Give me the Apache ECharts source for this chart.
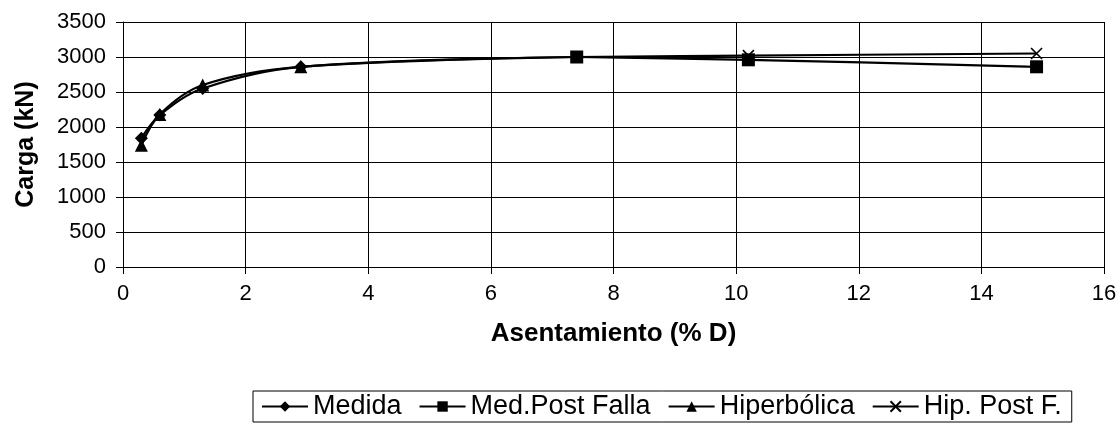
<!DOCTYPE html>
<html>
<head>
<meta charset="utf-8">
<script src="https://cdn.jsdelivr.net/npm/echarts@6/dist/echarts.min.js"></script>
<style>
  html, body { margin: 0; padding: 0; background: #fff; }
  #chart { width: 1120px; height: 429px; }
</style>
</head>
<body>
<div id="chart"></div>
<script>
// Settlement (% of diameter) vs. load (kN)
const medidaX = [0.3, 0.6, 1.3, 2.9, 7.4];
const medidaY = [1840, 2170, 2550, 2860, 3000];

const medPostX = [7.4, 10.2, 14.9];
const medPostY = [3000, 2960, 2860];

const hiperX = [0.3, 0.6, 1.3, 2.9, 7.4];
const hiperY = [1740, 2180, 2600, 2860, 3000];

const hipPostX = [7.4, 10.2, 14.9];
const hipPostY = [3000, 3020, 3050];

const xTicks = [0, 2, 4, 6, 8, 10, 12, 14, 16];
const yTicks = [0, 500, 1000, 1500, 2000, 2500, 3000, 3500];

const FONT = 'Liberation Sans, Arial, sans-serif';
const crossPath = 'path://M0,0L10,10M10,0L0,10';

function pairs(xs, ys) { return xs.map((x, i) => [x, ys[i]]); }

// hide the marker on a point where the curve just hands over to the next series
function sizeExcept(size, hiddenIndex) {
  return function (val, params) { return params.dataIndex === hiddenIndex ? 0 : size; };
}

const chart = echarts.init(document.getElementById('chart'), null, { renderer: 'canvas' });

const lineStyle = { color: '#000', width: 2.2 };

chart.setOption({
  animation: false,
  backgroundColor: '#fff',
  grid: { left: 123, right: 16, top: 22, bottom: 162, containLabel: false },
  legend: {
    top: 391,
    left: 253,
    itemWidth: 46,
    itemHeight: 13,
    itemGap: 17,
    padding: [2, 10, 2, 8],
    borderColor: '#000',
    borderWidth: 1,
    borderRadius: 0,
    textStyle: { fontFamily: FONT, fontSize: 27, color: '#000' },
    data: ['Medida', 'Med.Post Falla', 'Hiperbólica', 'Hip. Post F.']
  },
  xAxis: {
    type: 'value',
    min: xTicks[0],
    max: xTicks[xTicks.length - 1],
    interval: 2,
    name: 'Asentamiento (% D)',
    nameLocation: 'middle',
    nameGap: 54,
    nameTextStyle: { fontFamily: FONT, fontSize: 26, fontWeight: 'bold', color: '#000' },
    axisLine: { show: true, onZero: false, lineStyle: { color: '#000', width: 1 } },
    axisTick: { show: true, length: 7, lineStyle: { color: '#000' } },
    axisLabel: { fontFamily: FONT, fontSize: 22, color: '#000', margin: 16 },
    splitLine: { show: true, lineStyle: { color: '#000', width: 1 } }
  },
  yAxis: {
    type: 'value',
    min: yTicks[0],
    max: yTicks[yTicks.length - 1],
    interval: 500,
    name: 'Carga (kN)',
    nameLocation: 'middle',
    nameGap: 84,
    nameRotate: 90,
    nameTextStyle: { fontFamily: FONT, fontSize: 25, fontWeight: 'bold', color: '#000' },
    axisLine: { show: true, lineStyle: { color: '#000', width: 1 } },
    axisTick: { show: true, length: 7, lineStyle: { color: '#000' } },
    axisLabel: { fontFamily: FONT, fontSize: 22, color: '#000', margin: 17, formatter: v => String(v) },
    splitLine: { show: true, lineStyle: { color: '#000', width: 1 } }
  },
  series: [
    {
      name: 'Medida',
      type: 'line',
      smooth: 0.35,
      data: pairs(medidaX, medidaY),
      symbol: 'diamond',
      symbolSize: sizeExcept(13, medidaX.length - 1),
      itemStyle: { color: '#000' },
      lineStyle: lineStyle,
      z: 3
    },
    {
      name: 'Med.Post Falla',
      type: 'line',
      smooth: 0.35,
      data: pairs(medPostX, medPostY),
      symbol: 'rect',
      symbolSize: 13,
      itemStyle: { color: '#000' },
      lineStyle: lineStyle,
      z: 4
    },
    {
      name: 'Hiperbólica',
      type: 'line',
      smooth: 0.35,
      data: pairs(hiperX, hiperY),
      symbol: 'triangle',
      symbolSize: sizeExcept(13, hiperX.length - 1),
      itemStyle: { color: '#000' },
      lineStyle: lineStyle,
      z: 3
    },
    {
      name: 'Hip. Post F.',
      type: 'line',
      smooth: 0.35,
      data: pairs(hipPostX, hipPostY),
      symbol: crossPath,
      symbolSize: sizeExcept(11, 0),
      itemStyle: { color: '#000', borderColor: '#000', borderWidth: 1.6 },
      lineStyle: lineStyle,
      z: 3
    }
  ]
});
</script>
</body>
</html>
